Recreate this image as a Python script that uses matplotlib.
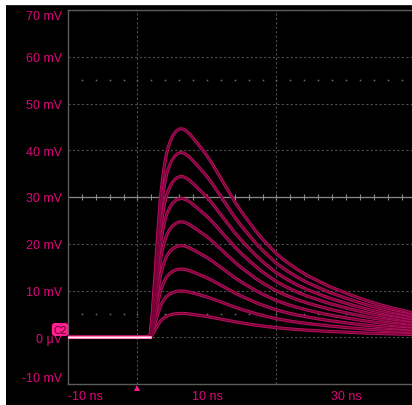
import numpy as np
import matplotlib
matplotlib.use("Agg")
from matplotlib import pyplot as plt
from matplotlib.patches import Rectangle

plt.rcParams['font.family'] = ['Liberation Sans', 'DejaVu Sans']

# pulse shape (normalised to the peak), time in ns
times = [-10.0, 1.8, 2.1, 2.35, 2.6, 2.8, 3.05, 3.3, 3.6, 3.9, 4.2, 4.6, 5.0, 5.4, 5.8,
         6.2, 6.6, 7.0, 7.5, 8.0, 8.5, 9.2, 9.9, 10.7, 11.5, 12.3, 13.1, 14.0, 15.0,
         16.0, 17.0, 18.0, 19.0, 20.0, 21.5, 23.0, 24.5, 26.0, 27.5, 29.0, 30.5,
         32.0, 33.5, 35.0, 36.5, 38.0, 39.5]
shape = [0.0, 0.0, 0.10, 0.22, 0.34, 0.45, 0.56, 0.67, 0.76, 0.83, 0.885, 0.93, 0.962,
         0.982, 0.995, 1.0, 0.998, 0.99, 0.975, 0.955, 0.935, 0.905, 0.875, 0.835,
         0.79, 0.745, 0.70, 0.65, 0.60, 0.555, 0.51, 0.47, 0.435, 0.40, 0.36, 0.325,
         0.295, 0.27, 0.245, 0.225, 0.205, 0.187, 0.17, 0.155, 0.142, 0.13, 0.118]
# peak height of each trace (mV)
peaks = [44.6, 39.5, 34.4, 29.7, 24.7, 19.6, 14.6, 9.9, 5.1]

yticks = [-10, 0, 10, 20, 30, 40, 50, 60, 70]
ylabels = ['-10 mV', '0 µV', '10 mV', '20 mV', '30 mV', '40 mV', '50 mV', '60 mV', '70 mV']
xticks = [-10, 10, 30]
xlabels = ['-10 ns', '10 ns', '30 ns']
levels = [55, 5]   # dotted level markers

pink = '#e0067c'
W, H = 412, 406

fig = plt.figure(figsize=(W / 100, H / 100), dpi=100, facecolor='white')
fig.patches.append(Rectangle((6 / W, 0), 1, (H - 6) / H, transform=fig.transFigure,
                             facecolor='black', edgecolor='none', zorder=-10))
fig.patches.append(Rectangle((6 / W, (H - 7) / H), 1, 1.5 / H, transform=fig.transFigure,
                             facecolor='#23272d', edgecolor='none', zorder=-9))

ax = fig.add_axes([68 / W, (H - 385) / H, (W - 68) / W, (385 - 11) / H])
ax.set_facecolor('black')
ax.set_xlim(-10, 39.5)
ax.set_ylim(-10, 70)

for s in ['top', 'bottom', 'left']:
    ax.spines[s].set_color('#5c5c5c')
    ax.spines[s].set_linewidth(1.0)
ax.spines['right'].set_visible(False)

ax.set_xticks(xticks)
ax.set_xticklabels(xlabels)
ax.set_xticks(range(-10, 40, 10), minor=True)
ax.set_yticks(yticks)
ax.set_yticklabels(ylabels)
ax.tick_params(which='both', length=0, colors=pink, labelsize=9)
ax.tick_params(axis='y', pad=4)
ax.tick_params(axis='x', pad=4)
ax.get_xticklabels()[0].set_ha('left')
ax.get_yticklabels()[0].set_va('bottom')
ax.get_yticklabels()[-1].set_va('top')

ax.grid(True, which='minor', axis='x', color='#4e4e4e', linestyle=(0, (2, 2)), linewidth=0.8)
ax.grid(True, which='major', axis='y', color='#4e4e4e', linestyle=(0, (2, 2)), linewidth=0.8)
ax.grid(False, which='major', axis='x')

# centre crosshair with small ticks
ax.axhline(30, color='#8a8a8a', linewidth=0.9, zorder=2)
tx = np.arange(-8, 40, 2)
ax.plot(tx, np.full(len(tx), 30), linestyle='none', marker='|', markersize=4,
        markeredgewidth=0.8, color='#8a8a8a', zorder=2)
for lv in levels:
    ax.plot(tx, np.full(len(tx), lv), linestyle='none', marker='s', markersize=1.1,
            markeredgewidth=0, color='#6e6e6e', zorder=2)

t = np.array(times)
sh = np.array(shape)
for pk in peaks:
    v = pk * sh
    ax.plot(t, v, color='#b3105e', linewidth=2.3, solid_joinstyle='round',
            solid_capstyle='round', zorder=3)
    ax.plot(t, v, color='#780036', linewidth=0.9, solid_joinstyle='round', zorder=4)
# bright baseline where all traces overlap
ax.plot(t[:2], np.zeros(2), color='#ff7ab8', linewidth=2.2, zorder=5)
ax.plot(t[:2], np.zeros(2), color='#ffe6f2', linewidth=0.8, zorder=6)

# trigger position marker
ax.plot([0], [-0.012], transform=ax.get_xaxis_transform(), marker='^', markersize=5,
        color='#ff1a8c', markeredgewidth=0, clip_on=False, linestyle='none')

# channel badge
fig.text(60 / W, 1 - 330.5 / H, 'C2', ha='center', va='center', fontsize=7.5, color='#5a0028',
         bbox=dict(boxstyle='round,pad=0.15,rounding_size=0.3', facecolor='#ff1f8f', edgecolor='none'))

fig.savefig('out.png', dpi=100, facecolor=fig.get_facecolor())
